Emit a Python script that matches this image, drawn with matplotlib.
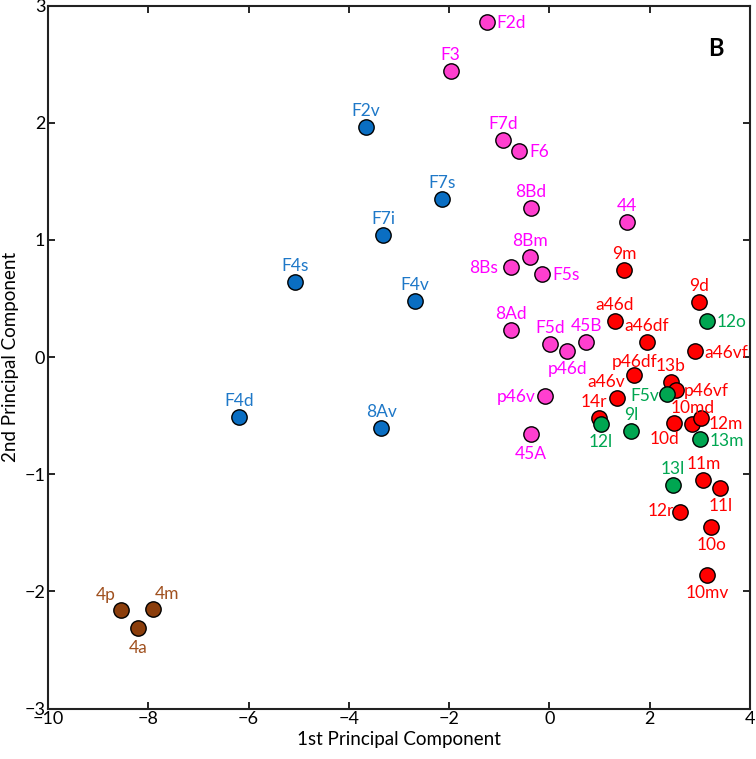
import matplotlib
matplotlib.use("Agg")
import matplotlib.pyplot as plt

# ---- data ----
names = ["F2d", "F3", "F7d", "F6", "F7s", "8Bd", "44",
         "F2v", "F7i", "F4s", "F4v", "F4d", "8Av",
         "4p", "4m", "4a",
         "8Bm", "8Bs", "F5s", "9m", "9d", "12o", "a46d", "8Ad", "a46df",
         "F5d", "45B", "p46d", "a46vf", "p46df", "13b", "p46vf", "F5v",
         "a46v", "p46v", "14r", "12l", "10d", "9l", "10md", "12m", "13m",
         "45A", "13l", "11m", "11l", "12r", "10o", "10mv"]
pc1 = [-1.25, -1.97, -0.92, -0.60, -2.15, -0.37, 1.54,
       -3.66, -3.31, -5.08, -2.68, -6.19, -3.35,
       -8.55, -7.91, -8.21,
       -0.39, -0.77, -0.14, 1.49, 2.99, 3.14, 1.31, -0.77, 1.94,
       0.01, 0.73, 0.36, 2.90, 1.69, 2.42, 2.52, 2.34,
       1.34, -0.08, 0.99, 1.03, 2.48, 1.63, 2.85, 3.02, 3.00,
       -0.37, 2.46, 3.07, 3.41, 2.60, 3.23, 3.15]
pc2 = [2.86, 2.44, 1.85, 1.76, 1.35, 1.27, 1.15,
       1.96, 1.04, 0.64, 0.48, -0.51, -0.61,
       -2.16, -2.15, -2.31,
       0.85, 0.77, 0.71, 0.74, 0.47, 0.31, 0.31, 0.23, 0.13,
       0.11, 0.13, 0.05, 0.05, -0.15, -0.21, -0.28, -0.32,
       -0.35, -0.33, -0.52, -0.57, -0.56, -0.63, -0.57, -0.52, -0.70,
       -0.66, -1.09, -1.05, -1.12, -1.32, -1.45, -1.86]
groups = ["pink", "pink", "pink", "pink", "blue", "pink", "pink",
          "blue", "blue", "blue", "blue", "blue", "blue",
          "brown", "brown", "brown",
          "pink", "pink", "pink", "red", "red", "green", "red", "pink", "red",
          "pink", "pink", "pink", "red", "red", "red", "red", "green",
          "red", "pink", "red", "green", "red", "green", "red", "red", "green",
          "pink", "green", "red", "red", "red", "red", "red"]

# ---- styles ----
marker_colors = {"pink": "#FF3FCF", "blue": "#0A6EC2", "brown": "#8B3E0C",
                 "red": "#FF0000", "green": "#00A651"}
text_colors = {"pink": "#FF00FF", "blue": "#1E78C8", "brown": "#A0501E",
               "red": "#FF0000", "green": "#00A651"}

# label placement: (dx px, dy px, ha, va)
A = (0, 11, "center", "baseline")
R = (10, 0, "left", "center_baseline")
L = (-10, 0, "right", "center_baseline")
B = (0, -10, "center", "top")
place = {n: A for n in names}
place.update({
    "F2d": R, "F6": R, "F5s": R, "12o": (10, 0, "left", "center_baseline"),
    "a46vf": R, "p46vf": (8, 0, "left", "center_baseline"),
    "12m": (8, -5, "left", "center_baseline"), "13m": R,
    "8Bs": (-13, 0, "right", "center_baseline"), "F5v": (-8, 0, "right", "center_baseline"),
    "p46v": L, "12r": (-6, 2, "right", "center_baseline"),
    "p46d": B, "12l": B, "45A": (0, -12, "center", "top"), "11l": B, "10o": B, "10mv": B,
    "4a": (0, -12, "center", "top"),
    "10d": (-9, -8, "center", "top"),
    "a46v": (-10, 11, "center", "baseline"),
    "14r": (-5, 11, "center", "baseline"),
    "p46df": (0, 8, "center", "baseline"),
    "4p": (-5, 10, "right", "baseline"),
    "4m": (2, 10, "left", "baseline"),
})

plt.rcParams["font.family"] = ["Lato", "DejaVu Sans"]

fig = plt.figure(figsize=(7.56, 7.59), dpi=100)
ax = fig.add_axes([48 / 756, 1 - 708.5 / 759, 702 / 756, 703 / 759])

for n, x, y, g in zip(names, pc1, pc2, groups):
    ax.scatter(x, y, s=122, color=marker_colors[g], edgecolors="black",
               linewidths=1.0, zorder=3)

px2pt = 72 / 100
for n, x, y, g in zip(names, pc1, pc2, groups):
    dx, dy, ha, va = place[n]
    ax.annotate(n, (x, y), xytext=(dx * px2pt, dy * px2pt),
                textcoords="offset points", ha=ha, va=va,
                fontsize=12.5, color=text_colors[g], zorder=4)

ax.text(0.962, 0.955, "B", transform=ax.transAxes, fontsize=17,
        fontweight="bold", ha="right", va="top")

ax.set_xlim(-10, 4)
ax.set_ylim(-3, 3)
ax.set_xticks(range(-10, 5, 2))
ax.set_yticks(range(-3, 4))
ax.tick_params(direction="in", top=True, right=True, length=5, width=1.2,
               labelsize=13, pad=2)
for sp in ax.spines.values():
    sp.set_linewidth(1.5)
    sp.set_color("#222222")

ax.set_xlabel("1st Principal Component", fontsize=13.5, labelpad=3)
ax.set_ylabel("2nd Principal Component", fontsize=13.5, labelpad=4)

fig.savefig("out.png", dpi=100)
